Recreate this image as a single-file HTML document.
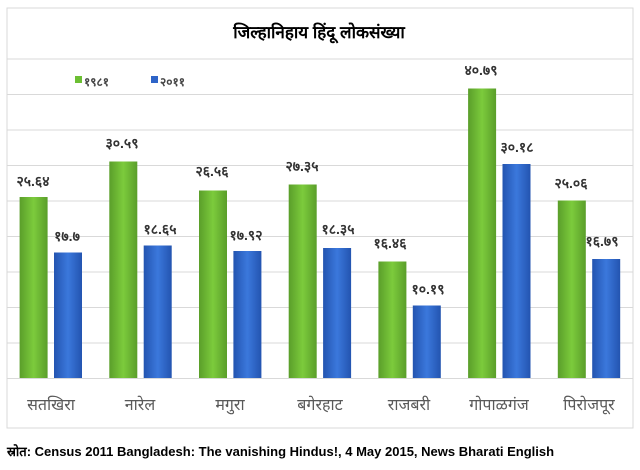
<!DOCTYPE html><html><head><meta charset="utf-8"><style>
body{margin:0;background:#fff;width:640px;height:465px;overflow:hidden;font-family:"Liberation Sans","DejaVu Sans",sans-serif}
</style></head><body>
<svg width="640" height="465" xmlns="http://www.w3.org/2000/svg">
<defs>
<linearGradient id="g" x1="0" x2="1"><stop offset="0" stop-color="#5a9e2a"/><stop offset="0.5" stop-color="#7ccb3c"/><stop offset="1" stop-color="#5a9e2a"/></linearGradient>
<linearGradient id="b" x1="0" x2="1"><stop offset="0" stop-color="#2354b0"/><stop offset="0.5" stop-color="#3b78dc"/><stop offset="1" stop-color="#2354b0"/></linearGradient>
</defs>
<rect x="7" y="8" width="626" height="420" fill="#fff" stroke="#d9d9d9"/>
<text x="319" y="38" text-anchor="middle" font-size="17" font-weight="bold" fill="#000">जिल्हानिहाय हिंदू लोकसंख्या</text>
<g stroke="#d9d9d9" stroke-width="1">
<line x1="7" x2="633" y1="59" y2="59"/><line x1="7" x2="633" y1="94.5" y2="94.5"/><line x1="7" x2="633" y1="130" y2="130"/><line x1="7" x2="633" y1="165.5" y2="165.5"/><line x1="7" x2="633" y1="201" y2="201"/><line x1="7" x2="633" y1="236.5" y2="236.5"/><line x1="7" x2="633" y1="272" y2="272"/><line x1="7" x2="633" y1="307.5" y2="307.5"/><line x1="7" x2="633" y1="343" y2="343"/><line x1="7" x2="633" y1="378.5" y2="378.5"/>
</g>
<rect x="75" y="76" width="7" height="7" fill="#6cbf33"/><text x="84" y="86" font-size="12" font-weight="bold" fill="#444">१९८१</text>
<rect x="151" y="76" width="7" height="7" fill="#2e64c8"/><text x="160" y="86" font-size="12" font-weight="bold" fill="#444">२०११</text>
<g font-size="14" font-weight="bold" fill="#333" text-anchor="middle">
<rect x="19.6" y="197" width="28" height="181" fill="url(#g)"/><text x="33" y="186">२५.६४</text>
<rect x="54" y="252.5" width="28" height="125.5" fill="url(#b)"/><text x="67" y="241">१७.७</text>
<rect x="109.3" y="161.5" width="28" height="216.5" fill="url(#g)"/><text x="122" y="148">३०.५९</text>
<rect x="143.7" y="245.5" width="28" height="132.5" fill="url(#b)"/><text x="160" y="234">१८.६५</text>
<rect x="199" y="190.5" width="28" height="187.5" fill="url(#g)"/><text x="212" y="176">२६.५६</text>
<rect x="233.4" y="251" width="28" height="127" fill="url(#b)"/><text x="246" y="240">१७.९२</text>
<rect x="288.7" y="184.5" width="28" height="193.5" fill="url(#g)"/><text x="302" y="171">२७.३५</text>
<rect x="323.1" y="248" width="28" height="130" fill="url(#b)"/><text x="338" y="234">१८.३५</text>
<rect x="378.4" y="261.5" width="28" height="116.5" fill="url(#g)"/><text x="390" y="248">१६.४६</text>
<rect x="412.8" y="305.5" width="28" height="72.5" fill="url(#b)"/><text x="428" y="294">१०.१९</text>
<rect x="468.1" y="88.5" width="28" height="289.5" fill="url(#g)"/><text x="481" y="75">४०.७९</text>
<rect x="502.5" y="164" width="28" height="214" fill="url(#b)"/><text x="517" y="152">३०.१८</text>
<rect x="557.8" y="200.5" width="28" height="177.5" fill="url(#g)"/><text x="571" y="188">२५.०६</text>
<rect x="592.2" y="259" width="28" height="119" fill="url(#b)"/><text x="602" y="246">१६.७९</text>
</g>
<g font-size="16" fill="#595959" text-anchor="middle">
<text x="51" y="410">सतखिरा</text><text x="140" y="410">नारेल</text><text x="230" y="410">मगुरा</text><text x="320" y="410">बगेरहाट</text><text x="409" y="410">राजबरी</text><text x="499" y="410">गोपाळगंज</text><text x="589" y="410">पिरोजपूर</text>
</g>
<text x="7" y="456" font-size="13" font-weight="bold" fill="#000">स्रोत: Census 2011 Bangladesh: The vanishing Hindus!, 4 May 2015, News Bharati English</text>
</svg>
</body></html>
